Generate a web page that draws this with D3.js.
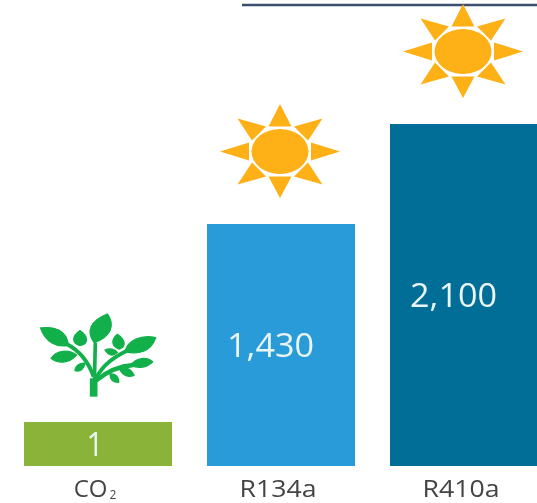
<!DOCTYPE html>
<html>
<head>
<meta charset="utf-8">
<script src="https://cdn.jsdelivr.net/npm/d3@7"></script>
<style>
  html, body { margin: 0; padding: 0; background: #fff; overflow: hidden; }
  text { font-family: "Open Sans", "Noto Sans", sans-serif; }
  svg { filter: blur(0.45px); }
</style>
</head>
<body>
<div id="chart"></div>
<script>
const categories = ['CO2', 'R134a', 'R410a']
const values = [1, 1430, 2100]
const valueLabels = ['1', '1,430', '2,100']
const barColors = ['#8ab33a', '#299bd8', '#006e96']

const w = 537
const h = 503
const baseline = 466

const svg = d3.select('#chart').append('svg')
  .attr('width', w)
  .attr('height', h)
  .style('display', 'block')

// bars are not to scale in the original, so the value scale is piecewise
const x = d3.scaleBand().domain(categories).range([24, 538]).paddingInner(35 / 183)
const y = d3.scaleLinear().domain(values).range([422, 224, 124])

// rule at the top
svg.append('line')
  .attr('x1', 242).attr('x2', w)
  .attr('y1', 5).attr('y2', 5)
  .attr('stroke', '#3d4f70')
  .attr('stroke-width', 2.4)

// bars
svg.append('g').selectAll('rect')
  .data(categories)
  .enter().append('rect')
  .attr('x', d => x(d))
  .attr('y', (d, i) => y(values[i]))
  .attr('width', x.bandwidth())
  .attr('height', (d, i) => baseline - y(values[i]))
  .attr('fill', (d, i) => barColors[i])

// value labels
const valueWidth = d3.scaleOrdinal().domain(valueLabels).range([17, 87, 87])
svg.append('g').selectAll('text')
  .data(categories)
  .enter().append('text')
  .attr('x', (d, i) => x(d) + x.bandwidth() / 2 - (i === 0 ? 3 : 10.5))
  .attr('y', (d, i) => (y(values[i]) + baseline) / 2 + 11.5)
  .attr('text-anchor', 'middle')
  .attr('font-size', 32)
  .attr('fill', '#eaf5f5')
  .attr('textLength', (d, i) => valueWidth(valueLabels[i]))
  .attr('lengthAdjust', 'spacingAndGlyphs')
  .text((d, i) => valueLabels[i])

// category axis
const xAxis = d3.axisBottom(x).tickSize(0)
const axisG = svg.append('g')
  .attr('class', 'x-axis')
  .attr('transform', 'translate(-3,' + baseline + ')')
  .call(xAxis)
axisG.select('.domain').remove()
axisG.selectAll('text')
  .attr('y', 31)
  .attr('dy', 0)
  .attr('font-size', 24)
  .attr('font-family', null)
  .attr('fill', '#444')
  .attr('textLength', d => d === 'CO2' ? null : 77)
  .attr('lengthAdjust', 'spacingAndGlyphs')
axisG.selectAll('text').filter(d => d === 'CO2')
  .text('CO')
  .attr('text-anchor', 'middle')
  .append('tspan')
  .attr('font-size', 12)
  .attr('dx', 2)
  .attr('dy', 2)
  .text('2')

// sun icon, one per high GWP bar
const rays = [
  [[0, -47.5], [-11.5, -25], [11.5, -25]],
  [[0, 46.5], [-11.5, 25], [11.5, 25]],
  [[-60, 0], [-31, -9], [-31, 9]],
  [[60, 0], [31, -9], [31, 9]],
  [[-42.5, -33], [-14, -25], [-28, -11]],
  [[42.5, -33], [14, -25], [28, -11]],
  [[-42.5, 33], [-14, 25], [-28, 11]],
  [[42.5, 33], [14, 25], [28, 11]]
]
const suns = svg.append('g').selectAll('g')
  .data(categories.slice(1))
  .enter().append('g')
  .attr('transform', (d, i) => 'translate(' + (x(d) + x.bandwidth() / 2 - 1) + ',' + (y(values[i + 1]) - 72.5) + ')')
suns.selectAll('polygon')
  .data(rays)
  .enter().append('polygon')
  .attr('points', d => d.join(' '))
  .attr('fill', '#fdb117')
suns.append('ellipse')
  .attr('rx', 28.5)
  .attr('ry', 22.5)
  .attr('fill', '#fdb117')

// plant icon, path coords taken at 3x
const leaves = [
  'M283 128C258 95 270 62 322 42C345 75 335 108 283 128Z',
  'M205 135C172 145 135 125 122 84C165 78 200 92 205 135Z',
  'M240 92C266 110 266 132 240 137C216 130 214 110 240 92Z',
  'M230 165C205 193 172 190 153 175C170 150 205 147 230 165Z',
  'M255 190C250 210 238 215 225 212C226 196 240 188 255 190Z',
  'M352 103C378 120 378 142 358 147C335 140 332 120 352 103Z',
  'M375 155C382 122 425 102 467 113C452 155 415 165 375 155Z',
  'M315 150C330 143 345 148 352 157C340 170 325 167 315 150Z',
  'M393 195C410 172 440 170 458 185C440 203 415 208 393 195Z',
  'M358 205C375 197 394 208 402 226C385 233 366 227 358 205Z',
  'M330 222C347 220 357 232 356 247C340 247 330 238 330 222Z'
]
const stems = [
  ['M281 290L281 235', 23],
  ['M283 250L286 128', 11],
  ['M281 230C265 185 235 150 200 132', 12],
  ['M285 240C310 190 345 170 385 150', 12],
  ['M288 242C320 215 360 198 400 195', 13]
]
const plant = svg.append('g')
  .attr('transform', 'translate(' + (x('CO2') + x.bandwidth() / 2 - 98) + ',' + (y(1) - 122) + ') scale(' + 1 / 3 + ')')
  .attr('fill', '#12b04a')
plant.selectAll('path.leaf')
  .data(leaves)
  .enter().append('path')
  .attr('class', 'leaf')
  .attr('d', d => d)
  .attr('stroke', '#12b04a')
  .attr('stroke-width', 4)
  .attr('stroke-linejoin', 'round')
plant.selectAll('path.stem')
  .data(stems)
  .enter().append('path')
  .attr('class', 'stem')
  .attr('d', d => d[0])
  .attr('fill', 'none')
  .attr('stroke', '#12b04a')
  .attr('stroke-width', d => d[1])
</script>
</body>
</html>
